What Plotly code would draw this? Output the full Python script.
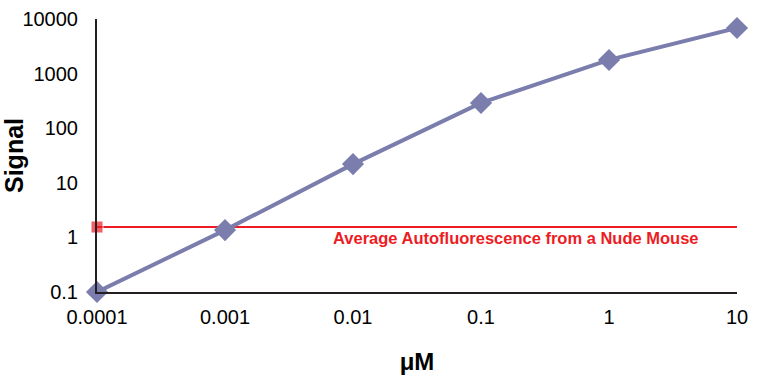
import plotly.graph_objects as go

conc_uM = [0.0001, 0.001, 0.01, 0.1, 1, 10]
signal = [0.1, 1.36, 22, 290, 1780, 6850]
autofluor_level = 1.55
autofluor_label = "Average Autofluorescence from a Nude Mouse"
x_ticks = [0.0001, 0.001, 0.01, 0.1, 1, 10]
x_ticktext = ["0.0001", "0.001", "0.01", "0.1", "1", "10"]
y_ticks = [0.1, 1, 10, 100, 1000, 10000]
y_ticktext = ["0.1", "1", "10", "100", "1000", "10000"]

fig = go.Figure()
fig.add_trace(go.Scatter(
    x=[conc_uM[0], conc_uM[-1]], y=[autofluor_level, autofluor_level],
    mode="lines+markers",
    line=dict(color="#ED1C24", width=2),
    marker=dict(symbol="square", size=[12, 0], color="#ED1C24"),
    cliponaxis=False, showlegend=False, hoverinfo="skip"))
fig.add_trace(go.Scatter(
    x=conc_uM, y=signal, mode="lines+markers",
    line=dict(color="#7B7DAD", width=4),
    marker=dict(symbol="diamond", size=17, color="#7B7DAD"),
    cliponaxis=False, showlegend=False))

fig.add_annotation(x=-0.73, y=-0.02, xref="x", yref="y", text="<b>" + autofluor_label + "</b>",
                   showarrow=False, font=dict(color="#ED1C24", size=16.5, family="Liberation Sans, Arial"))

fig.update_layout(
    width=768, height=379,
    margin=dict(l=97, r=31, t=19, b=87),
    paper_bgcolor="white", plot_bgcolor="white",
    font=dict(family="Liberation Sans, Arial", color="#000000"),
    xaxis=dict(type="log", range=[-4, 1], tickvals=x_ticks, ticktext=x_ticktext, automargin=False,
               showgrid=False, zeroline=False, showline=True, linecolor="#231F20", linewidth=2,
               ticks="", tickfont=dict(size=20), ticklabelstandoff=6,
               title=dict(text="<b>μM</b>", font=dict(size=24), standoff=26)),
    yaxis=dict(type="log", range=[-1, 4], tickvals=y_ticks, ticktext=y_ticktext, automargin=False,
               showgrid=False, zeroline=False, showline=True, linecolor="#231F20", linewidth=2,
               ticks="", tickfont=dict(size=20), ticklabelstandoff=13,
               title=dict(text="<b>Signal</b>", font=dict(size=25), standoff=3)),
)
fig.write_html("out.html", config={"displayModeBar": False},
               post_script="document.body.style.margin='0';")
